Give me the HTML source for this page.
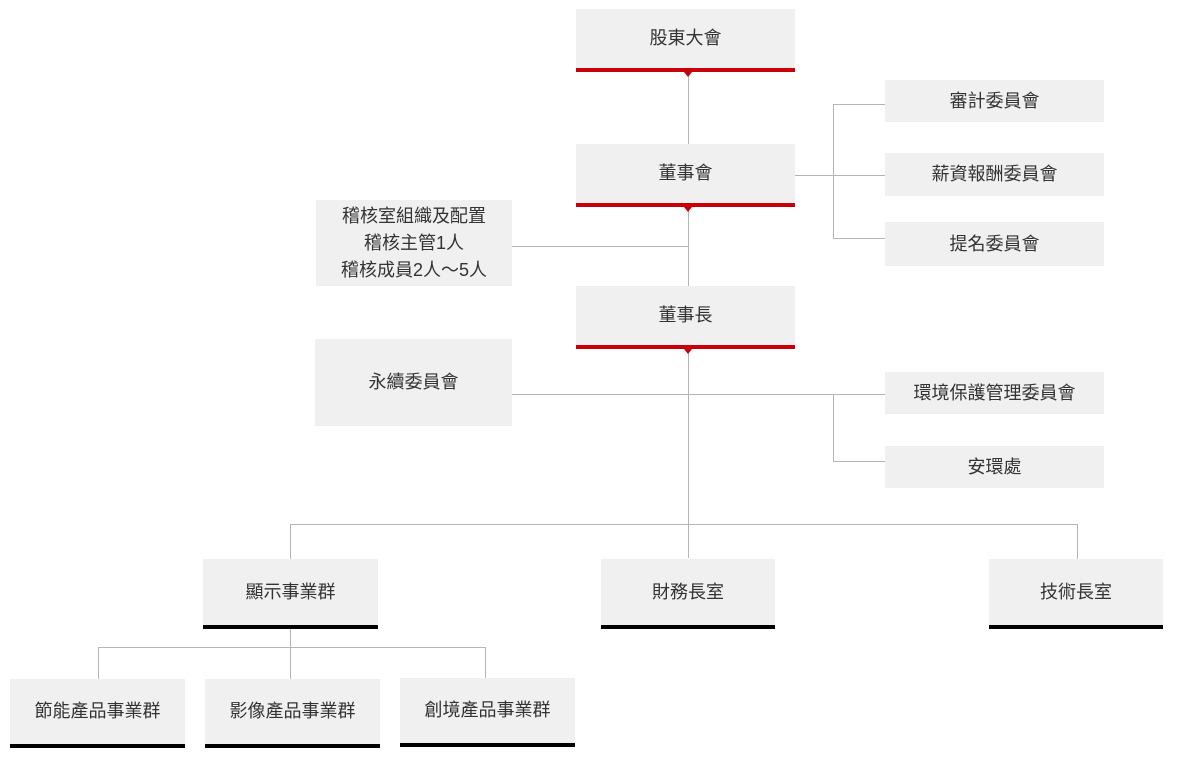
<!DOCTYPE html>
<html><head><meta charset="utf-8"><style>
body{margin:0;width:1177px;height:759px;background:#fff;position:relative;overflow:hidden;font-family:"Liberation Sans","Noto Sans CJK TC",sans-serif;}
.b{position:absolute;background:#f0f0f0;color:#333;font-size:18px;display:flex;align-items:center;justify-content:center;text-align:center;line-height:27px;}
.r{position:absolute;background:#c8000a;height:4px;}
.k{position:absolute;background:#000;height:4px;}
.h{position:absolute;height:1px;background:#b5b5b5;}
.v{position:absolute;width:1px;background:#b5b5b5;}
.t{position:absolute;width:0;height:0;border-left:4px solid transparent;border-right:4px solid transparent;border-top:5px solid #c8000a;}
</style></head><body>
<div class="v" style="left:688px;top:72px;height:486px"></div>
<div class="h" style="left:512px;top:246px;width:176px"></div>
<div class="h" style="left:795px;top:175px;width:90px"></div>
<div class="v" style="left:833px;top:104px;height:135px"></div>
<div class="h" style="left:833px;top:104px;width:52px"></div>
<div class="h" style="left:833px;top:238px;width:52px"></div>
<div class="h" style="left:512px;top:394px;width:373px"></div>
<div class="v" style="left:833px;top:394px;height:67px"></div>
<div class="h" style="left:833px;top:461px;width:52px"></div>
<div class="h" style="left:290px;top:524px;width:788px"></div>
<div class="v" style="left:290px;top:524px;height:35px"></div>
<div class="v" style="left:1077px;top:524px;height:35px"></div>
<div class="v" style="left:290px;top:629px;height:50px"></div>
<div class="h" style="left:98px;top:647px;width:388px"></div>
<div class="v" style="left:98px;top:647px;height:32px"></div>
<div class="v" style="left:485px;top:647px;height:31px"></div>
<div class="b" style="left:576px;top:9px;width:219px;height:59px">股東大會</div>
<div class="r" style="left:576px;top:68px;width:219px"></div><div class="t" style="left:684px;top:72px"></div>
<div class="b" style="left:576px;top:144px;width:219px;height:59px">董事會</div>
<div class="r" style="left:576px;top:203px;width:219px"></div><div class="t" style="left:684px;top:207px"></div>
<div class="b" style="left:576px;top:286px;width:219px;height:59px">董事長</div>
<div class="r" style="left:576px;top:345px;width:219px"></div><div class="t" style="left:684px;top:349px"></div>
<div class="b" style="left:316px;top:200px;width:196px;height:86px">稽核室組織及配置<br>稽核主管1人<br>稽核成員2人～5人</div>
<div class="b" style="left:315px;top:339px;width:197px;height:87px">永續委員會</div>
<div class="b" style="left:885px;top:80px;width:219px;height:42px">審計委員會</div>
<div class="b" style="left:885px;top:153px;width:219px;height:43px">薪資報酬委員會</div>
<div class="b" style="left:885px;top:222px;width:219px;height:44px">提名委員會</div>
<div class="b" style="left:885px;top:372px;width:219px;height:42px">環境保護管理委員會</div>
<div class="b" style="left:885px;top:446px;width:219px;height:42px">安環處</div>
<div class="b" style="left:203px;top:559px;width:175px;height:66px">顯示事業群</div>
<div class="k" style="left:203px;top:625px;width:175px"></div>
<div class="b" style="left:601px;top:559px;width:174px;height:66px">財務長室</div>
<div class="k" style="left:601px;top:625px;width:174px"></div>
<div class="b" style="left:989px;top:559px;width:174px;height:66px">技術長室</div>
<div class="k" style="left:989px;top:625px;width:174px"></div>
<div class="b" style="left:10px;top:679px;width:175px;height:65px">節能產品事業群</div>
<div class="k" style="left:10px;top:744px;width:175px"></div>
<div class="b" style="left:205px;top:679px;width:175px;height:65px">影像產品事業群</div>
<div class="k" style="left:205px;top:744px;width:175px"></div>
<div class="b" style="left:400px;top:678px;width:175px;height:65px">創境產品事業群</div>
<div class="k" style="left:400px;top:743px;width:175px"></div>
</body></html>
